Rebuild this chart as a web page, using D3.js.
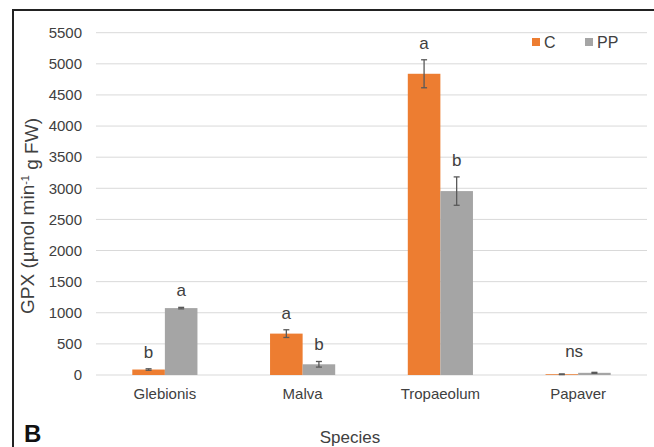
<!DOCTYPE html>
<html>
<head>
<meta charset="utf-8">
<style>
  body { margin: 0; background: #fff; }
  svg text { font-family: 'Liberation Sans', Arial, sans-serif; fill: #404040; }
</style>
</head>
<body>
<svg width="654" height="447"></svg>
<script src="https://d3js.org/d3.v7.min.js"></script>
<script>

// data
var species = ["Glebionis", "Malva", "Tropaeolum", "Papaver"];
var groups = ["C", "PP"];
var valuesC = [88, 665, 4840, 12];
var valuesPP = [1075, 172, 2955, 35];
var errC = [12, 62, 225, 6];
var errPP = [12, 45, 228, 8];
var lettersC = ["b", "a", "a", ""];
var lettersPP = ["a", "b", "b", ""];
var yTicks = [0, 500, 1000, 1500, 2000, 2500, 3000, 3500, 4000, 4500, 5000, 5500];

var colors = { C: "#ED7D31", PP: "#A5A5A5" };

var svg = d3.select("svg");

// frame of the figure panel
svg.append("path")
  .attr("d", "M13,447 L13,10 L654,10")
  .attr("fill", "none")
  .attr("stroke", "#222")
  .attr("stroke-width", 2);

var plotL = 96, plotR = 647, plotT = 32.7, plotB = 375;

var y = d3.scaleLinear().domain([0, 5500]).range([plotB, plotT]);
var x0 = d3.scaleBand().domain(species).range([plotL, plotR])
  .paddingInner(0.527).paddingOuter(0.2635);
var x1 = d3.scaleBand().domain(groups).range([0, x0.bandwidth()]);

var rows = [];
species.forEach(function (s, i) {
  rows.push({ sp: s, g: "C", v: valuesC[i], e: errC[i], l: lettersC[i] });
  rows.push({ sp: s, g: "PP", v: valuesPP[i], e: errPP[i], l: lettersPP[i] });
});

// gridlines
svg.append("g").selectAll("line")
  .data(yTicks)
  .enter().append("line")
  .attr("x1", plotL).attr("x2", plotR)
  .attr("y1", function (d) { return y(d); })
  .attr("y2", function (d) { return y(d); })
  .attr("stroke", "#d9d9d9")
  .attr("stroke-width", 1);

// y tick labels
svg.append("g").selectAll("text")
  .data(yTicks)
  .enter().append("text")
  .attr("x", 82)
  .attr("y", function (d) { return y(d); })
  .attr("dy", "0.35em")
  .attr("text-anchor", "end")
  .style("font-size", "15px")
  .text(function (d) { return d; });

// bars
svg.append("g").selectAll("rect")
  .data(rows)
  .enter().append("rect")
  .attr("x", function (d) { return x0(d.sp) + x1(d.g); })
  .attr("y", function (d) { return y(d.v); })
  .attr("width", x1.bandwidth())
  .attr("height", function (d) { return y(0) - y(d.v); })
  .attr("fill", function (d) { return colors[d.g]; });

// error bars
var eb = svg.append("g").attr("stroke", "#595959").attr("stroke-width", 1.3);
rows.forEach(function (d) {
  var cx = x0(d.sp) + x1(d.g) + x1.bandwidth() / 2;
  var y1 = y(d.v + d.e), y2 = y(d.v - d.e);
  eb.append("line").attr("x1", cx).attr("x2", cx).attr("y1", y1).attr("y2", y2);
  eb.append("line").attr("x1", cx - 3).attr("x2", cx + 3).attr("y1", y1).attr("y2", y1);
  eb.append("line").attr("x1", cx - 3).attr("x2", cx + 3).attr("y1", y2).attr("y2", y2);
});

// significance letters
svg.append("g").selectAll("text")
  .data(rows.filter(function (d) { return d.l; }))
  .enter().append("text")
  .attr("x", function (d) { return x0(d.sp) + x1(d.g) + x1.bandwidth() / 2; })
  .attr("y", function (d) { return y(d.v + d.e) - 11; })
  .attr("text-anchor", "middle")
  .style("font-size", "17px")
  .text(function (d) { return d.l; });

svg.append("text")
  .attr("x", x0("Papaver") + x0.bandwidth() / 2 - 4)
  .attr("y", y(valuesPP[3] + errPP[3]) - 15)
  .attr("text-anchor", "middle")
  .style("font-size", "17px")
  .text("ns");

// category labels
svg.append("g").selectAll("text")
  .data(species)
  .enter().append("text")
  .attr("x", function (d) { return x0(d) + x0.bandwidth() / 2; })
  .attr("y", 399)
  .attr("text-anchor", "middle")
  .style("font-size", "15px")
  .text(function (d) { return d; });

// axis titles
var yt = svg.append("text")
  .attr("transform", "translate(34,216) rotate(-90)")
  .attr("text-anchor", "middle")
  .style("font-size", "19px");
yt.append("tspan").text("GPX (µmol min");
yt.append("tspan").attr("dy", "-0.5em").style("font-size", "11px").text("-1");
yt.append("tspan").attr("dy", "0.5em").text(" g FW)");

svg.append("text")
  .attr("x", 350).attr("y", 443)
  .attr("text-anchor", "middle")
  .style("font-size", "17px")
  .text("Species");

svg.append("text")
  .attr("x", 24).attr("y", 442)
  .style("font-size", "24px")
  .style("font-weight", "bold")
  .style("fill", "#111")
  .text("B");

// legend
var lg = svg.append("g");
var lx = [532, 585];
groups.forEach(function (g, i) {
  lg.append("rect").attr("x", lx[i]).attr("y", 38).attr("width", 8).attr("height", 8)
    .attr("fill", colors[g]);
  lg.append("text").attr("x", lx[i] + 12).attr("y", 48)
    .style("font-size", "16px").text(g);
});

</script>
</body>
</html>
